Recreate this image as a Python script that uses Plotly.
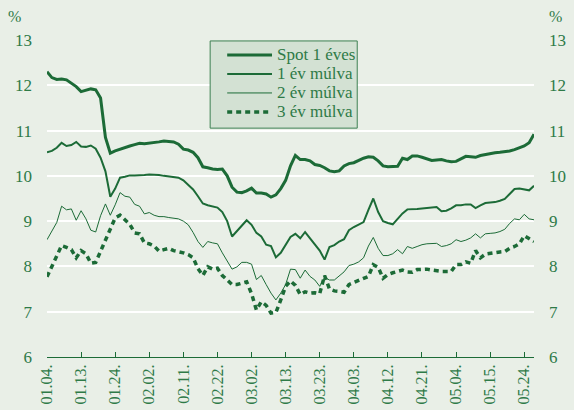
import plotly.graph_objects as go

# ---- data ----
day_index = list(range(101))

tick_labels = ["01.04.", "01.13.", "01.24.", "02.02.", "02.11.", "02.22.", "03.02.",
               "03.13.", "03.23.", "04.03.", "04.12.", "04.21.", "05.04.", "05.15.", "05.24."]
tick_every = 7

series_names = ["Spot 1 éves", "1 év múlva", "2 év múlva", "3 év múlva"]

spot_1y = [12.30, 12.17, 12.13, 12.14, 12.12, 12.05, 11.97, 11.86, 11.89, 11.92,
           11.90, 11.72, 10.85, 10.50, 10.55, 10.59, 10.63, 10.66, 10.69, 10.72,
           10.71, 10.72, 10.73, 10.75, 10.77, 10.76, 10.75, 10.70, 10.59, 10.57,
           10.52, 10.40, 10.20, 10.18, 10.15, 10.14, 10.15, 10.00, 9.75, 9.64,
           9.63, 9.67, 9.73, 9.62, 9.62, 9.60, 9.53, 9.58, 9.72, 9.90,
           10.22, 10.45, 10.36, 10.36, 10.33, 10.25, 10.23, 10.18, 10.11, 10.09,
           10.11, 10.22, 10.27, 10.29, 10.34, 10.39, 10.42, 10.41, 10.33, 10.22,
           10.20, 10.20, 10.21, 10.39, 10.36, 10.44, 10.44, 10.41, 10.38, 10.34,
           10.35, 10.36, 10.33, 10.31, 10.32, 10.38, 10.43, 10.42, 10.41, 10.45,
           10.47, 10.50, 10.51, 10.52, 10.53, 10.55, 10.58, 10.62, 10.66, 10.73,
           10.92]

fwd_1y = [10.52, 10.55, 10.62, 10.73, 10.66, 10.68, 10.75, 10.65, 10.64, 10.67,
          10.60, 10.40, 10.10, 9.54, 9.72, 9.96, 9.98, 10.01, 10.01, 10.01,
          10.02, 10.03, 10.03, 10.02, 10.00, 9.99, 9.98, 9.96, 9.90, 9.80,
          9.70, 9.55, 9.39, 9.35, 9.33, 9.30, 9.20, 9.00, 8.66, 8.78,
          8.91, 9.02, 8.92, 8.74, 8.66, 8.48, 8.45, 8.20, 8.30, 8.47,
          8.65, 8.72, 8.62, 8.76, 8.62, 8.48, 8.35, 8.15, 8.43, 8.47,
          8.55, 8.60, 8.80, 8.87, 8.92, 8.98, 9.25, 9.50, 9.20, 9.00,
          8.96, 8.93, 9.05, 9.17, 9.26, 9.26, 9.27, 9.28, 9.29, 9.30,
          9.31, 9.22, 9.23, 9.28, 9.35, 9.35, 9.37, 9.37, 9.29, 9.35,
          9.40, 9.41, 9.42, 9.45, 9.49, 9.60, 9.71, 9.72, 9.70, 9.68,
          9.78]

fwd_2y = [8.59, 8.78, 8.97, 9.33, 9.25, 9.27, 9.02, 9.23, 9.05, 8.80,
          8.76, 9.12, 9.38, 9.13, 9.36, 9.63, 9.55, 9.53, 9.37, 9.33,
          9.16, 9.19, 9.13, 9.10, 9.10, 9.08, 9.07, 9.05, 9.00, 8.92,
          8.75, 8.55, 8.42, 8.55, 8.52, 8.50, 8.30, 8.12, 7.94, 7.99,
          8.09, 8.09, 8.05, 7.71, 7.80, 7.60, 7.41, 7.26, 7.41, 7.60,
          7.94, 7.93, 7.74, 7.92, 7.78, 7.70, 7.56, 7.76, 7.70, 7.70,
          7.79, 7.88, 8.02, 8.05, 8.10, 8.19, 8.45, 8.64, 8.40, 8.24,
          8.24, 8.28, 8.37, 8.28, 8.44, 8.40, 8.44, 8.48, 8.50, 8.51,
          8.51, 8.44, 8.46, 8.50, 8.59, 8.55, 8.58, 8.63, 8.72, 8.63,
          8.72, 8.73, 8.74, 8.77, 8.82, 8.95, 9.05, 9.03, 9.15, 9.05,
          9.03]

fwd_3y = [7.77, 8.00, 8.19, 8.46, 8.42, 8.37, 8.19, 8.35, 8.28, 8.07,
          8.09, 8.34, 8.60, 8.86, 9.07, 9.13, 9.03, 8.93, 8.74, 8.72,
          8.52, 8.50, 8.45, 8.34, 8.37, 8.40, 8.35, 8.33, 8.30, 8.26,
          8.19, 7.95, 7.80, 7.99, 7.94, 7.96, 7.80, 7.70, 7.60, 7.60,
          7.63, 7.66, 7.40, 7.04, 7.22, 7.14, 6.97, 6.98, 7.26, 7.56,
          7.68, 7.58, 7.38, 7.44, 7.41, 7.42, 7.40, 7.80, 7.50, 7.46,
          7.45, 7.43, 7.60, 7.64, 7.68, 7.73, 7.78, 8.04, 7.98, 7.74,
          7.82, 7.86, 7.89, 7.92, 7.88, 7.87, 7.93, 7.93, 7.94, 7.92,
          7.90, 7.89, 7.89, 7.89, 8.04, 8.04, 8.10, 8.07, 8.35, 8.19,
          8.27, 8.29, 8.31, 8.32, 8.33, 8.40, 8.44, 8.50, 8.68, 8.61,
          8.55]

y_ticks = [6, 7, 8, 9, 10, 11, 12, 13]

# ---- styling ----
LINE = "#1C6B37"
TEXT = "#2E7A47"
BG = "#E9EFE7"
LEG_BG = "#D3E1D3"
LEG_BORDER = "#3E8053"
FONT = "Times New Roman, Liberation Serif, Times, serif"

styles = [
    dict(width=3.0, dash="solid"),
    dict(width=2.0, dash="solid"),
    dict(width=1.0, dash="solid"),
    dict(width=3.5, dash="5px,4px"),
]
all_series = [spot_1y, fwd_1y, fwd_2y, fwd_3y]

fig = go.Figure()
for name, vals, st in zip(series_names, all_series, styles):
    fig.add_trace(go.Scatter(
        x=day_index, y=vals, name=name, mode="lines", showlegend=False,
        line=dict(color=LINE, width=st["width"], dash=st["dash"]),
    ))
# invisible trace to drive the right-hand axis
fig.add_trace(go.Scatter(x=[day_index[0]], y=[y_ticks[0]], yaxis="y2",
                         mode="markers", marker=dict(opacity=0),
                         showlegend=False, hoverinfo="skip"))

tickvals = [i * tick_every for i in range(len(tick_labels))]

# ---- legend box drawn in paper coordinates ----
leg_x0, leg_x1, leg_y0, leg_y1 = 0.335, 0.637, 0.722, 0.997
sample_x0, sample_x1, text_x = 0.370, 0.462, 0.468
row_y = [0.953, 0.893, 0.833, 0.773]

shapes = [dict(type="rect", xref="paper", yref="paper",
               x0=leg_x0, x1=leg_x1, y0=leg_y0, y1=leg_y1,
               fillcolor=LEG_BG, line=dict(color=LEG_BORDER, width=1), layer="above")]
annotations = []
for name, st, ry in zip(series_names, styles, row_y):
    shapes.append(dict(type="line", xref="paper", yref="paper",
                       x0=sample_x0, x1=sample_x1, y0=ry, y1=ry, layer="above",
                       line=dict(color=LINE, width=st["width"], dash=st["dash"])))
    annotations.append(dict(text=name, xref="paper", yref="paper", x=text_x, y=ry,
                            xanchor="left", yanchor="middle", showarrow=False,
                            font=dict(family=FONT, size=17, color=TEXT)))

annotations += [
    dict(text="%", xref="paper", yref="paper", x=-0.066, y=1.073,
         xanchor="center", yanchor="middle", showarrow=False,
         font=dict(family=FONT, size=16, color=TEXT)),
    dict(text="%", xref="paper", yref="paper", x=1.045, y=1.073,
         xanchor="center", yanchor="middle", showarrow=False,
         font=dict(family=FONT, size=16, color=TEXT)),
]

fig.update_layout(
    width=574, height=410,
    margin=dict(l=47, r=40, t=40, b=53),
    paper_bgcolor=BG, plot_bgcolor=BG,
    font=dict(family=FONT, color=TEXT, size=16),
    showlegend=False,
    xaxis=dict(
        range=[day_index[0], day_index[-1]],
        tickmode="array", tickvals=tickvals, ticktext=tick_labels,
        tickangle=-90, ticks="inside", ticklen=5, tickcolor=LINE,
        showline=True, linecolor=LINE, linewidth=1,
        showgrid=False, zeroline=False, automargin=False,
        tickfont=dict(family=FONT, size=16, color=TEXT),
    ),
    yaxis=dict(
        range=[6, 13], tickvals=y_ticks,
        showgrid=True, gridcolor="#FFFFFF", gridwidth=2,
        zeroline=False, showline=False, ticks="", automargin=False,
        ticklabelstandoff=14,
        tickfont=dict(family=FONT, size=17, color=TEXT),
    ),
    yaxis2=dict(
        range=[6, 13], tickvals=y_ticks, overlaying="y", side="right",
        showgrid=False, zeroline=False, showline=False, ticks="", automargin=False,
        ticklabelstandoff=14,
        tickfont=dict(family=FONT, size=17, color=TEXT),
    ),
    shapes=shapes,
    annotations=annotations,
)

fig.write_html("out.html", config={"displayModeBar": False},
               post_script="document.body.style.margin='0';document.body.style.padding='0';")
